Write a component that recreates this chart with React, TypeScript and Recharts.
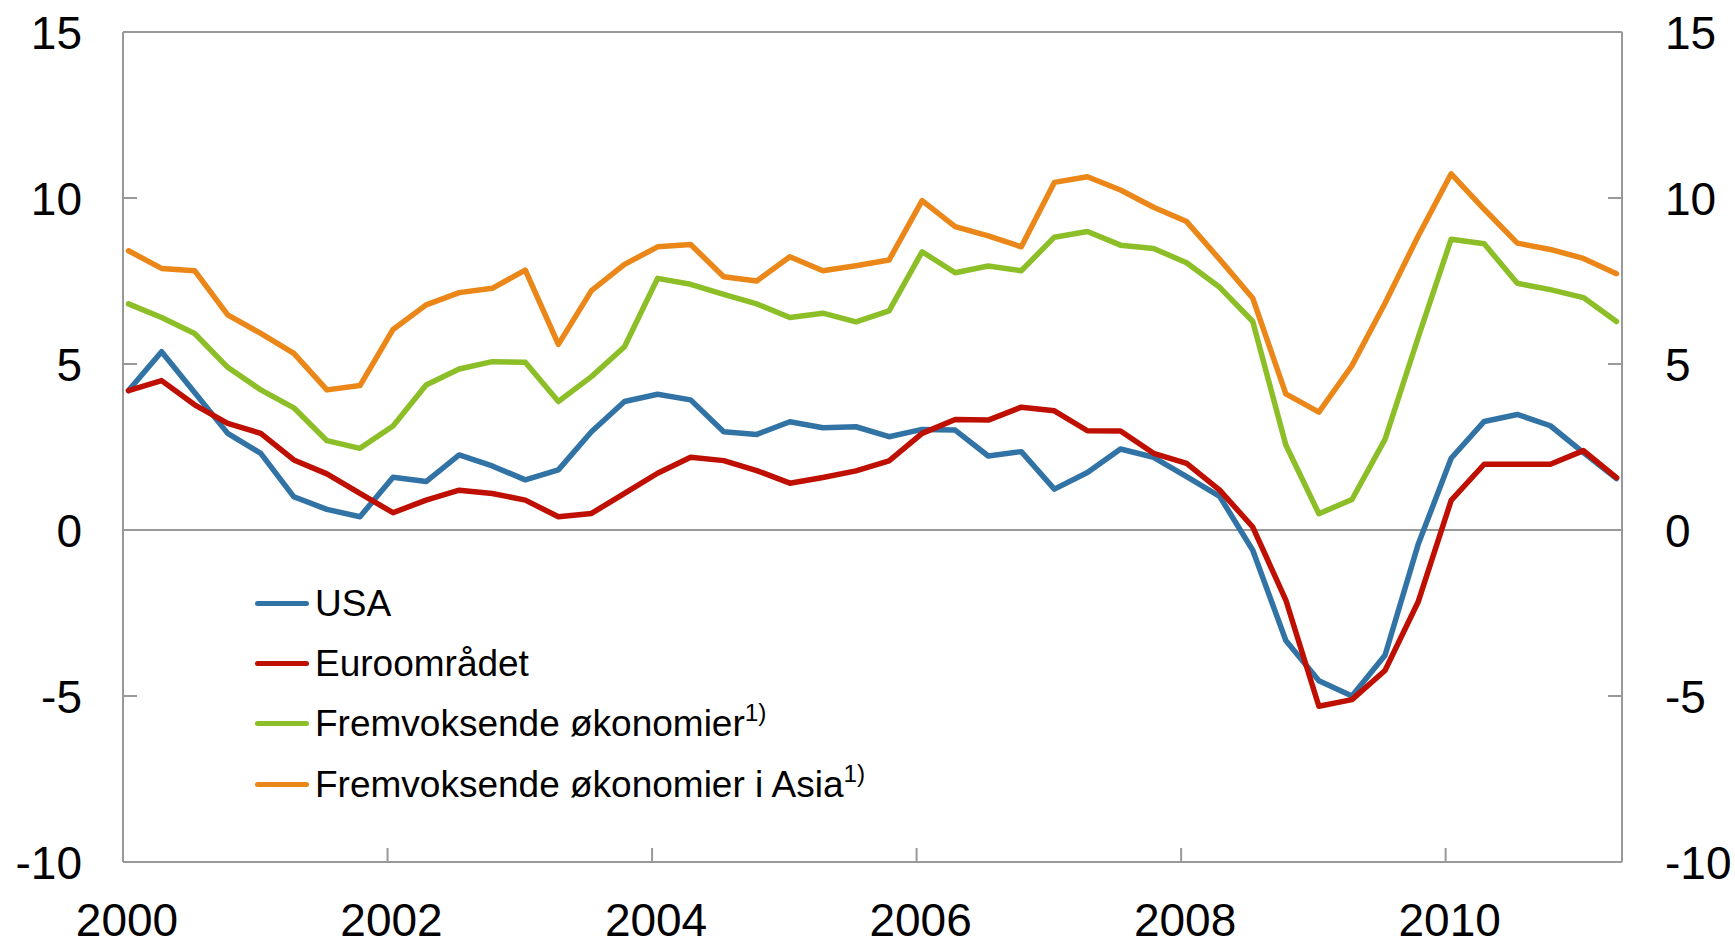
import React from 'react'
import { LineChart, Line, XAxis, YAxis, ReferenceLine } from 'recharts'

// quarterly data, 2000 Q1 - 2011 Q2
const quarters = [
  '2000Q1', '2000Q2', '2000Q3', '2000Q4',
  '2001Q1', '2001Q2', '2001Q3', '2001Q4',
  '2002Q1', '2002Q2', '2002Q3', '2002Q4',
  '2003Q1', '2003Q2', '2003Q3', '2003Q4',
  '2004Q1', '2004Q2', '2004Q3', '2004Q4',
  '2005Q1', '2005Q2', '2005Q3', '2005Q4',
  '2006Q1', '2006Q2', '2006Q3', '2006Q4',
  '2007Q1', '2007Q2', '2007Q3', '2007Q4',
  '2008Q1', '2008Q2', '2008Q3', '2008Q4',
  '2009Q1', '2009Q2', '2009Q3', '2009Q4',
  '2010Q1', '2010Q2', '2010Q3', '2010Q4',
  '2011Q1', '2011Q2',
]

const usa = [
  4.2, 5.37, 4.14, 2.91, 2.31, 1.0, 0.62, 0.4, 1.59, 1.46, 2.26, 1.93,
  1.51, 1.81, 2.96, 3.87, 4.09, 3.92, 2.96, 2.88, 3.26, 3.08, 3.11, 2.81,
  3.03, 3.01, 2.23, 2.36, 1.23, 1.73, 2.44, 2.19, 1.61, 1.01, -0.61, -3.33,
  -4.54, -5.0, -3.77, -0.44, 2.16, 3.27, 3.48, 3.14, 2.33, 1.55,
]

const euro = [
  4.2, 4.5, 3.77, 3.21, 2.91, 2.11, 1.69, 1.1, 0.52, 0.9, 1.2, 1.1,
  0.9, 0.4, 0.5, 1.1, 1.71, 2.19, 2.09, 1.79, 1.41, 1.58, 1.78, 2.08,
  2.91, 3.33, 3.31, 3.7, 3.59, 2.99, 2.98, 2.31, 2.01, 1.2, 0.09, -2.11,
  -5.31, -5.11, -4.23, -2.17, 0.89, 1.98, 1.98, 1.98, 2.39, 1.58,
]

const emerging = [
  6.81, 6.4, 5.92, 4.9, 4.22, 3.68, 2.69, 2.46, 3.13, 4.37, 4.85, 5.07,
  5.05, 3.87, 4.62, 5.52, 7.58, 7.4, 7.1, 6.81, 6.4, 6.53, 6.27, 6.6,
  8.38, 7.75, 7.95, 7.81, 8.82, 8.99, 8.58, 8.48, 8.05, 7.31, 6.28, 2.56,
  0.49, 0.92, 2.73, 5.79, 8.76, 8.62, 7.43, 7.24, 7.0, 6.28,
]

const asia = [
  8.41, 7.88, 7.81, 6.48, 5.92, 5.32, 4.22, 4.35, 6.04, 6.78, 7.15, 7.28,
  7.83, 5.59, 7.21, 8.0, 8.53, 8.6, 7.63, 7.5, 8.23, 7.81, 7.96, 8.13,
  9.92, 9.14, 8.86, 8.53, 10.47, 10.64, 10.24, 9.72, 9.29, 8.15, 6.98, 4.1,
  3.55, 4.95, 6.83, 8.85, 10.73, 9.66, 8.64, 8.45, 8.18, 7.72,
]

const yearTicks = [2000, 2002, 2004, 2006, 2008, 2010]
const valueTicks = [-10, -5, 0, 5, 10, 15]

const series = [
  { key: 'usa', name: 'USA', color: '#3273A5', note: false },
  { key: 'euro', name: 'Euroområdet', color: '#BE0F00', note: false },
  { key: 'emerging', name: 'Fremvoksende økonomier', color: '#8CBE28', note: true },
  { key: 'asia', name: 'Fremvoksende økonomier i Asia', color: '#EB8719', note: true },
]

// middle of the first month in the quarter, as decimal year
const toYear = (q: string) =>
  Number(q.slice(0, 4)) + (Number(q.slice(5)) - 1) / 4 + 1 / 24

const data = quarters.map((q, i) => ({
  t: toYear(q),
  usa: usa[i],
  euro: euro[i],
  emerging: emerging[i],
  asia: asia[i],
}))

const FONT = '"Liberation Sans", Arial, sans-serif'
const AXIS = '#999999'

function XTick({ x, y, payload }: any) {
  return (
    <g>
      <line x1={x} x2={x} y1={y} y2={y - 14} stroke={AXIS} strokeWidth={2} />
      <text x={x + 4} y={y + 74} textAnchor="middle" fontSize={46} fill="#000" fontFamily={FONT}>
        {payload.value}
      </text>
    </g>
  )
}

function LeftTick({ x, y, payload }: any) {
  return (
    <g>
      <line x1={x} x2={x + 14} y1={y} y2={y} stroke={AXIS} strokeWidth={2} />
      <text x={x - 41} y={y + 16.5} textAnchor="end" fontSize={46} fill="#000" fontFamily={FONT}>
        {payload.value}
      </text>
    </g>
  )
}

function RightTick({ x, y, payload }: any) {
  return (
    <g>
      <line x1={x} x2={x - 14} y1={y} y2={y} stroke={AXIS} strokeWidth={2} />
      <text x={x + 43} y={y + 16.5} textAnchor="start" fontSize={46} fill="#000" fontFamily={FONT}>
        {payload.value}
      </text>
    </g>
  )
}

function ChartLegend() {
  return (
    <div
      style={{
        position: 'absolute',
        left: 255,
        top: 573,
        fontFamily: FONT,
        fontSize: 37,
        color: '#000',
      }}
    >
      {series.map((s) => (
        <div key={s.key} style={{ height: 60.4, display: 'flex', alignItems: 'center', lineHeight: 1 }}>
          <span
            style={{
              display: 'inline-block',
              width: 54,
              height: 5,
              borderRadius: 3,
              background: s.color,
              marginRight: 6,
            }}
          />
          <span>
            {s.name}
            {s.note && (
              <sup style={{ fontSize: '0.66em', lineHeight: 0, verticalAlign: '0.6em' }}>1)</sup>
            )}
          </span>
        </div>
      ))}
    </div>
  )
}

export default function App() {
  return (
    <div style={{ position: 'absolute', left: 0, top: 0, width: 1735, height: 941, background: '#fff' }}>
      <LineChart
        width={1735}
        height={941}
        data={data}
        margin={{ top: 32, right: 0, left: 0, bottom: 0 }}
      >
        <XAxis
          dataKey="t"
          type="number"
          domain={[2000, 2011 + 1 / 3]}
          ticks={yearTicks}
          interval={0}
          allowDataOverflow
          height={79}
          tickSize={0}
          tickMargin={0}
          tickLine={false}
          tick={<XTick />}
          axisLine={{ stroke: AXIS, strokeWidth: 2 }}
        />
        <YAxis
          yAxisId="left"
          domain={[-10, 15]}
          ticks={valueTicks}
          interval={0}
          allowDataOverflow
          width={123}
          tickSize={0}
          tickMargin={0}
          tickLine={false}
          tick={<LeftTick />}
          axisLine={{ stroke: AXIS, strokeWidth: 2 }}
        />
        <YAxis
          yAxisId="right"
          orientation="right"
          domain={[-10, 15]}
          ticks={valueTicks}
          interval={0}
          allowDataOverflow
          width={113}
          tickSize={0}
          tickMargin={0}
          tickLine={false}
          tick={<RightTick />}
          axisLine={{ stroke: AXIS, strokeWidth: 2 }}
        />
        <ReferenceLine yAxisId="left" y={15} stroke={AXIS} strokeWidth={2} />
        <ReferenceLine yAxisId="left" y={0} stroke={AXIS} strokeWidth={2} />
        {series.map((s) => (
          <Line
            key={s.key}
            yAxisId="left"
            type="linear"
            dataKey={s.key}
            name={s.name}
            stroke={s.color}
            strokeWidth={5.5}
            strokeLinejoin="round"
            strokeLinecap="round"
            dot={false}
            activeDot={false}
            isAnimationActive={false}
          />
        ))}
      </LineChart>
      <ChartLegend />
    </div>
  )
}
